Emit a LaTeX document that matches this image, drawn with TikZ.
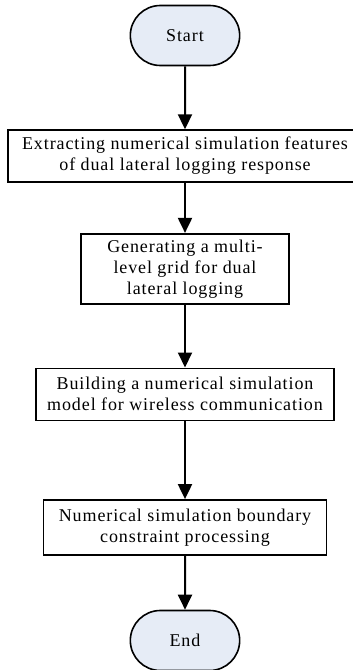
\documentclass[tikz,border=0pt]{standalone}
\usepackage{fontspec}
\setmainfont{Liberation Serif}[LetterSpace=5]
\usetikzlibrary{positioning,shapes.misc,arrows.meta}
\definecolor{termfill}{HTML}{E6ECF6}

\begin{document}
\begin{tikzpicture}[x=1pt,y=1pt,
    terminal/.style={rounded rectangle, draw, line width=1.6pt, fill=termfill,
      minimum width=116pt, minimum height=60pt, font=\fontsize{18}{21}\selectfont},
    process/.style={rectangle, draw, line width=1.6pt, align=center,
      inner sep=2pt, font=\fontsize{18}{21}\selectfont},
    flow/.style={-{Triangle[length=15pt,width=14pt]}, line width=2pt}]
      \useasboundingbox (0,0) rectangle (353,-670);
      % Define nodes
      \node[terminal] (start) at (185,-35.5) {Start};
      \node[process, below=63pt of start, minimum width=354pt, minimum height=52pt] (feat)
        {Extracting numerical simulation features\\of dual lateral logging response};
      \node[process, below=50pt of feat, minimum width=208pt, minimum height=70pt] (grid)
        {Generating a multi-\\level grid for dual\\lateral logging};
      \node[process, below=63pt of grid, minimum width=298pt, minimum height=52pt] (model)
        {Building a numerical simulation\\model for wireless communication};
      \node[process, below=78pt of model, minimum width=283pt, minimum height=55pt] (bound)
        {Numerical simulation boundary\\constraint processing};
      \node[terminal, below=54pt of bound] (end) {End};
      % Connect nodes
      \draw[flow] (start) -- (feat);
      \draw[flow] (feat) -- (grid);
      \draw[flow] (grid) -- (model);
      \draw[flow] (model) -- (bound);
      \draw[flow] (bound) -- (end);
    \end{tikzpicture}
\end{document}
